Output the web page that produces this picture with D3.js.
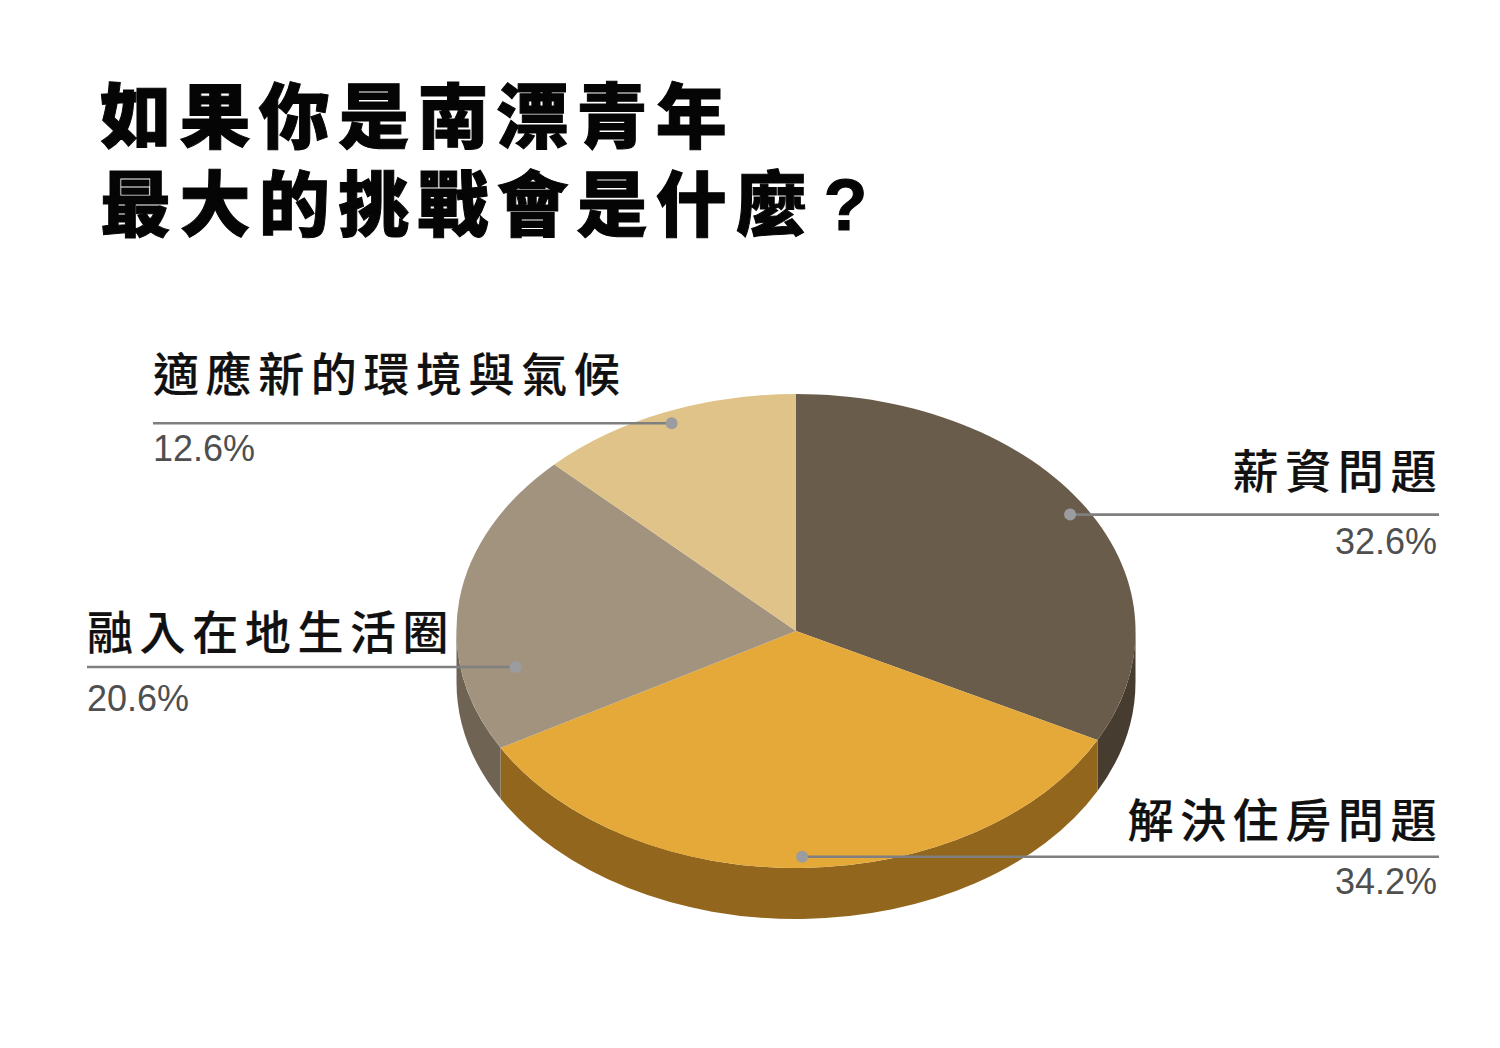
<!DOCTYPE html>
<html>
<head>
<meta charset="utf-8">
<script src="https://cdnjs.cloudflare.com/ajax/libs/d3/7.8.5/d3.min.js"></script>
<style>
  html, body { margin: 0; padding: 0; background: #fff; }
  svg { display: block; }
</style>
</head>
<body>
<svg id="chart" width="1500" height="1048"></svg>
<script>
const categories = ["薪資問題", "解決住房問題", "融入在地生活圈", "適應新的環境與氣候"];
const shares = [32.6, 34.2, 20.6, 12.6];
const topColors = ["#695c4b", "#e4a938", "#a2937e", "#e0c388"];
const sideColors = ["#463c30", "#93661d", "#6f6454", "#a08a5e"];
const titleLines = ["如果你是南漂青年", "最大的挑戰會是什麼"];
const titleTails = ["", "?"];

const cx = 796, cy = 631, rx = 339.5, ry = 237, depth = 51;
const cjk = "'Noto Sans CJK TC', 'Noto Sans CJK JP', sans-serif";
const latin = "Arial, 'Liberation Sans', sans-serif";

// leader lines: dot position on the slice, rule end, and text offsets from the rule
const callouts = [
  { dotR: 0.945, turn: 0, x: 1439, anchor: "end", nameDy: -27, pctDy: 39 },
  { dotR: 0.953, turn: 0, x: 1439, anchor: "end", nameDy: -20, pctDy: 37 },
  { dotR: 0.84, turn: -18, x: 87, anchor: "start", nameDy: -18, pctDy: 44 },
  { dotR: 0.95, turn: 0, x: 153, anchor: "start", nameDy: -32, pctDy: 38 }
];

const svg = d3.select("#chart");

const title = svg.append("g").selectAll("text")
  .data(titleLines)
  .join("text")
  .attr("x", 100)
  .attr("y", (d, i) => 142 + i * 88)
  .attr("font-family", `Arial, 'Liberation Sans', ${cjk}`)
  .attr("font-weight", 900)
  .attr("font-size", 71)
  .attr("letter-spacing", 8.4)
  .attr("fill", "#050505")
  .attr("stroke", "#050505")
  .attr("stroke-width", 1)
  .text((d) => d);

// the question mark sits a little apart from the CJK glyphs
title.append("tspan")
  .attr("dx", 9)
  .attr("font-weight", 700)
  .attr("font-size", 72)
  .text((d, i) => titleTails[i]);

const pie = d3.pie().sort(null).value((d) => d);
const slices = pie(shares);

const px = (a, r = 1) => cx + rx * r * Math.sin(a);
const py = (a, r = 1) => cy - ry * r * Math.cos(a);

// side wall, only the front half (PI/2 .. 3PI/2) can be seen
const sideGroup = svg.append("g");
slices.forEach((s, i) => {
  const a0 = Math.max(s.startAngle, Math.PI / 2);
  const a1 = Math.min(s.endAngle, Math.PI * 1.5);
  if (a1 <= a0) return;
  const large = a1 - a0 > Math.PI ? 1 : 0;
  const d = `M${px(a0)},${py(a0)}`
    + `A${rx},${ry} 0 ${large} 1 ${px(a1)},${py(a1)}`
    + `L${px(a1)},${py(a1) + depth}`
    + `A${rx},${ry} 0 ${large} 0 ${px(a0)},${py(a0) + depth}Z`;
  sideGroup.append("path").attr("d", d).attr("fill", sideColors[i]);
});

const arc = d3.arc().innerRadius(0).outerRadius(1);
svg.append("g")
  .attr("transform", `translate(${cx},${cy}) scale(${rx},${ry})`)
  .selectAll("path")
  .data(slices)
  .join("path")
  .attr("d", arc)
  .attr("fill", (d, i) => topColors[i]);

const labels = svg.append("g");
slices.forEach((s, i) => {
  const c = callouts[i];
  const isEnd = c.anchor === "end";
  const mid = (s.startAngle + s.endAngle) / 2 + (c.turn * Math.PI) / 180;
  const dx = px(mid, c.dotR), dy = py(mid, c.dotR);
  labels.append("line")
    .attr("x1", dx).attr("y1", dy)
    .attr("x2", c.x).attr("y2", dy)
    .attr("stroke", "#7f7f7f")
    .attr("stroke-width", 2.6);
  labels.append("circle")
    .attr("cx", dx).attr("cy", dy).attr("r", 6)
    .attr("fill", "#9b9ca0");
  labels.append("text")
    .attr("x", c.x + (isEnd ? 4 : 0))
    .attr("y", dy + c.nameDy)
    .attr("text-anchor", c.anchor)
    .attr("font-family", cjk)
    .attr("font-weight", 500)
    .attr("font-size", 46)
    .attr("letter-spacing", 6.6)
    .attr("fill", "#111")
    .attr("stroke", "#111")
    .attr("stroke-width", 0.2)
    .text(categories[i]);
  labels.append("text")
    .attr("x", c.x - (isEnd ? 2 : 0))
    .attr("y", dy + c.pctDy)
    .attr("text-anchor", c.anchor)
    .attr("font-family", latin)
    .attr("font-size", 36)
    .attr("fill", "#4f4f4f")
    .text(d3.format(".1f")(shares[i]) + "%");
});
</script>
</body>
</html>
